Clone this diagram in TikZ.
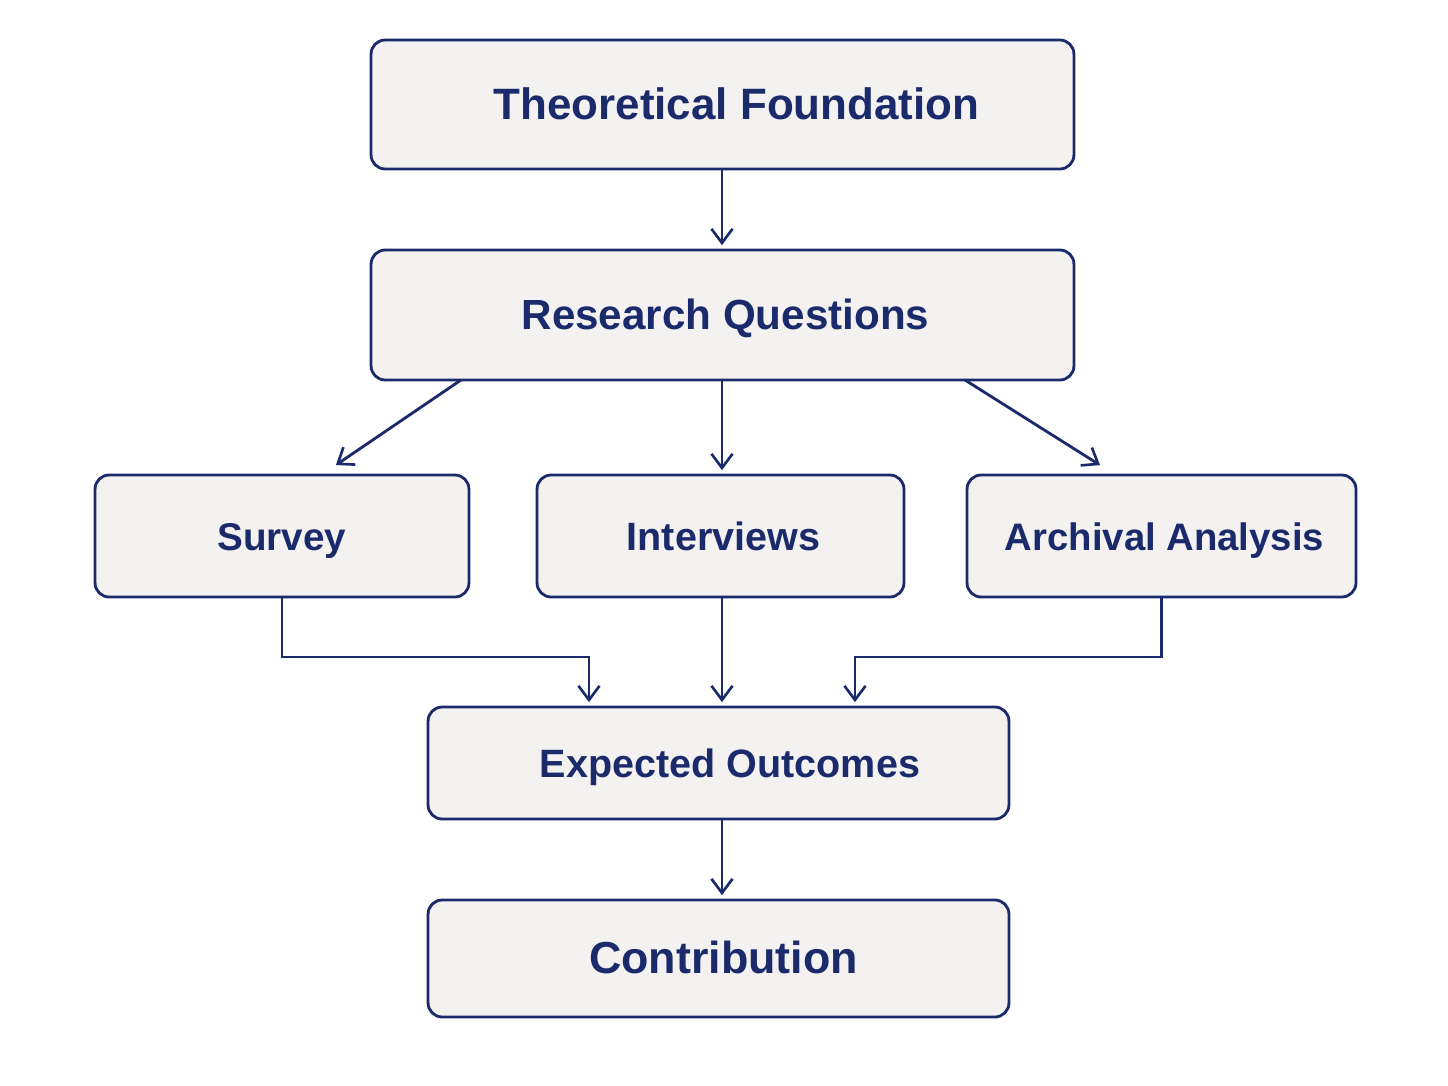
\documentclass[tikz,border=0pt]{standalone}
\usepackage{fontspec}
\setmainfont{Liberation Sans}
\usepackage{tikz}
\usetikzlibrary{arrows.meta}

\definecolor{navy}{HTML}{1B2A6B}
\definecolor{boxgray}{HTML}{F3F2F1}

\begin{document}
\begin{tikzpicture}[x=0.02cm, y=-0.02cm, thick,
			main node/.style={rectangle,draw=navy,fill=boxgray,line width=1.6pt,rounded corners=8pt,
				text=navy,font=\bfseries,inner sep=0pt,text height=17pt,text depth=0pt},
			link/.style={draw=navy,line width=1.6pt,-{Straight Barb[length=8pt,width=12pt,line width=1.5pt]},shorten >=2pt}]
			
			\useasboundingbox[fill=white] (0,0) rectangle (1448,1086);
			
			\node[main node,minimum width=14.06cm,minimum height=2.58cm,font=\bfseries\fontsize{25}{30}\selectfont] (1) at (722.5,104.5) {\hspace*{0.56cm}Theoretical Foundation};
			\node[main node,minimum width=14.06cm,minimum height=2.6cm,font=\bfseries\fontsize{24}{29}\selectfont] (2) at (722.5,315) {\hspace*{0.12cm}Research Questions};
			\node[main node,minimum width=7.48cm,minimum height=2.44cm,font=\bfseries\fontsize{22}{27}\selectfont] (3) at (282,536) {Survey};
			\node[main node,minimum width=7.34cm,minimum height=2.44cm,font=\bfseries\fontsize{22.5}{27}\selectfont] (4) at (720.5,536) {\hspace*{0.12cm}Interviews};
			\node[main node,minimum width=7.78cm,minimum height=2.44cm,font=\bfseries\fontsize{21.8}{27}\selectfont] (5) at (1161.5,536) {\hspace*{0.12cm}Archival Analysis};
			\node[main node,minimum width=11.62cm,minimum height=2.24cm,font=\bfseries\fontsize{22.5}{27}\selectfont] (6) at (718.5,763) {\hspace*{0.46cm}Expected Outcomes};
			\node[main node,minimum width=11.62cm,minimum height=2.34cm,font=\bfseries\fontsize{25.5}{30}\selectfont] (7) at (718.5,958.5) {\hspace*{0.2cm}Contribution};
			
			% free ends and bends
			\coordinate (s1) at (461,380);
			\coordinate (e1) at (333,467);
			\coordinate (s2) at (965,380);
			\coordinate (e2) at (1103,467);
			\coordinate (b1) at (589,657);
			\coordinate (b2) at (855,657);
			\coordinate (c1) at (722,0);
			
			\draw[link] (1.south -| c1) -- (2.north -| c1);
			\draw[link] (s1) -- (e1);
			\draw[link] (2.south -| c1) -- (4.north -| c1);
			\draw[link] (s2) -- (e2);
			\draw[link] (3.south) |- (b1) -- (6.north -| b1);
			\draw[link] (4.south -| c1) -- (6.north -| c1);
			\draw[link] (5.south) |- (b2) -- (6.north -| b2);
			\draw[link] (6.south -| c1) -- (7.north -| c1);
			\end{tikzpicture}
\end{document}
